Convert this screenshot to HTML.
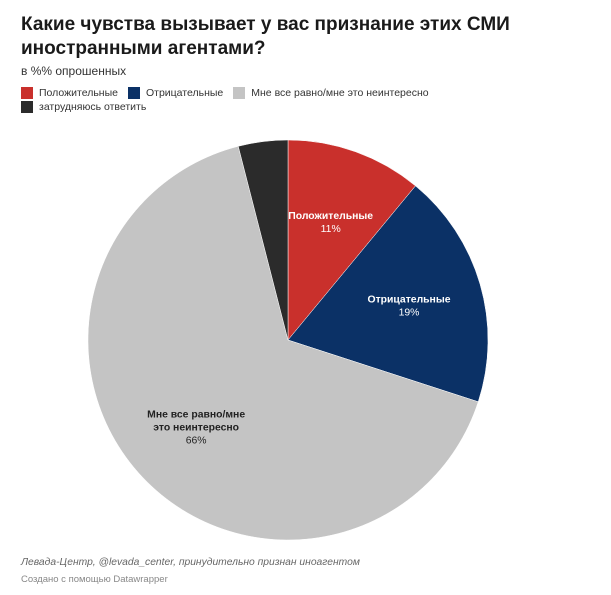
<!DOCTYPE html>
<html><head><meta charset="utf-8"><style>
body{margin:0;background:#fff;font-family:"Liberation Sans",sans-serif;width:611px;height:595px;overflow:hidden;position:relative}
.t{position:absolute;left:21px;top:13px;font-size:19px;font-weight:bold;line-height:24px;color:#1a1a1a;width:580px}
.s{position:absolute;left:21px;top:64px;font-size:12px;color:#333}
.lg{position:absolute;left:21px;font-size:10.5px;color:#333;display:flex;align-items:center}
.lg span.sw{display:inline-block;width:12px;height:12px;margin-right:6px}
.lg span.item{display:flex;align-items:center;margin-right:10px}
.f1{position:absolute;left:21px;top:557px;font-size:10.3px;font-style:italic;color:#666}
.f2{position:absolute;left:21px;top:574px;font-size:9.5px;color:#888}
</style></head><body>
<div class="t">Какие чувства вызывает у вас признание этих СМИ<br>иностранными агентами?</div>
<div class="s">в %% опрошенных</div>
<div class="lg" style="top:87px">
<span class="item"><span class="sw" style="background:#c9302c"></span>Положительные</span>
<span class="item"><span class="sw" style="background:#0b3166"></span>Отрицательные</span>
<span class="item"><span class="sw" style="background:#c4c4c4"></span>Мне все равно/мне это неинтересно</span>
</div>
<div class="lg" style="top:101px">
<span class="item"><span class="sw" style="background:#2b2b2b"></span>затрудняюсь ответить</span>
</div>
<svg id="pie" width="611" height="595" style="position:absolute;left:0;top:0"></svg>
<div class="f1">Левада-Центр, @levada_center, принудительно признан иноагентом</div>
<div class="f2">Создано с помощью Datawrapper</div>
<script>
const categories=["Положительные","Отрицательные","Мне все равно/мне это неинтересно","затрудняюсь ответить"];
const values=[11,19,66,4];
const colors=["#c9302c","#0b3166","#c4c4c4","#2b2b2b"];
const labelLines=[["Положительные"],["Отрицательные"],["Мне все равно/мне","это неинтересно"],null];
const textColors=["#fff","#fff","#222",null];
const svg=document.getElementById('pie');
const NS="http://www.w3.org/2000/svg";
const cx=288,cy=340,R=200;
const total=values.reduce((a,b)=>a+b,0);
function pt(a,r){return [cx+r*Math.sin(a),cy-r*Math.cos(a)];}
let acc=0;
values.forEach((v,i)=>{
  const a0=acc/total*2*Math.PI; acc+=v; const a1=acc/total*2*Math.PI;
  const p0=pt(a0,R),p1=pt(a1,R);
  const large=(a1-a0)>Math.PI?1:0;
  const path=document.createElementNS(NS,'path');
  path.setAttribute('d',`M${cx},${cy}L${p0[0]},${p0[1]}A${R},${R} 0 ${large} 1 ${p1[0]},${p1[1]}Z`);
  path.setAttribute('fill',colors[i]);
  path.setAttribute('stroke','#fff');path.setAttribute('stroke-width','0.5');
  
  
  svg.appendChild(path);
  if(labelLines[i]){
    const m=pt((a0+a1)/2,R*0.63);
    const lines=labelLines[i].concat([v+'%']);
    const g=document.createElementNS(NS,'text');
    
    
    g.setAttribute('text-anchor','middle');
    g.setAttribute('font-size','10.4');
    g.setAttribute('fill',textColors[i]);
    const y0=m[1]-(lines.length-1)*6.5+4;
    lines.forEach((l,j)=>{
      const ts=document.createElementNS(NS,'tspan');
      ts.setAttribute('x',m[0]);ts.setAttribute('y',y0+j*13);
      if(j<lines.length-1)ts.setAttribute('font-weight','bold');
      ts.textContent=l;g.appendChild(ts);
    });
    svg.appendChild(g);
  }
});
</script>
</body></html>
